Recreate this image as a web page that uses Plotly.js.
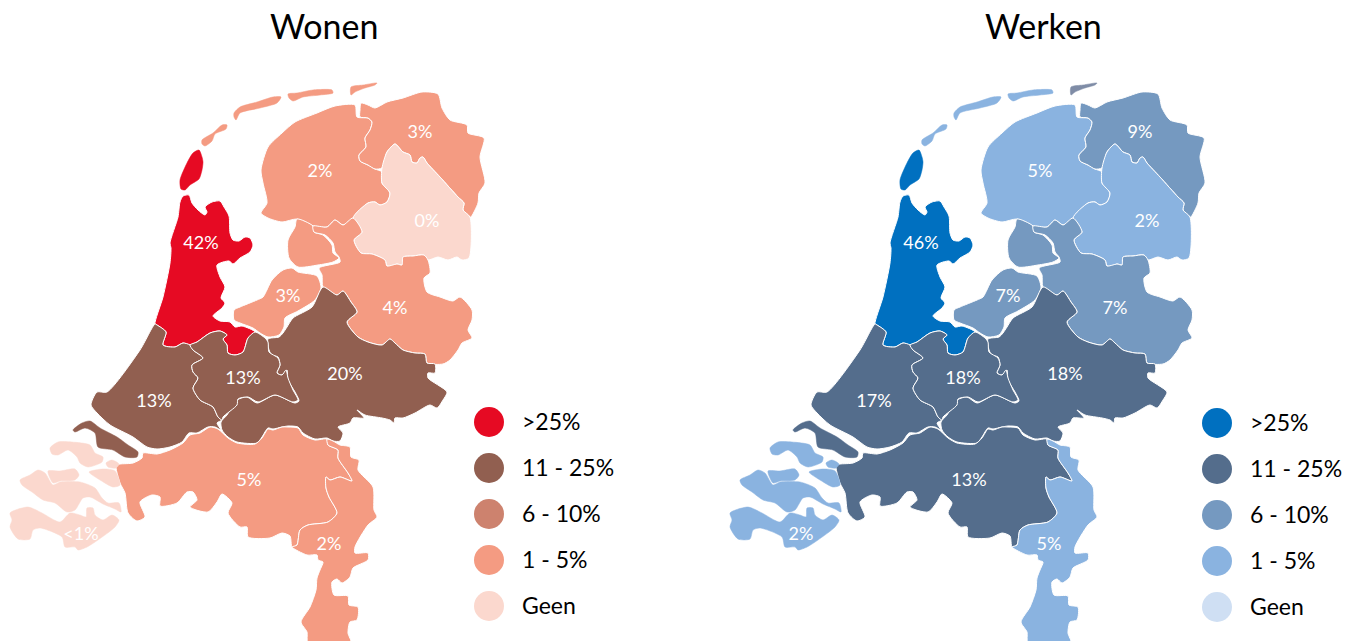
<!DOCTYPE html>
<html><head><meta charset="utf-8">
<script src="https://cdn.plot.ly/plotly-3.0.1.min.js"></script>
<style>html,body{margin:0;padding:0;background:#fff;overflow:hidden}#c{width:1356px;height:641px}</style>
</head><body><div id="c"></div>
<script>
// Province outlines: [map x, map y]
const texel=[[199,150],[202,157],[203,162],[202,170],[199,179],[190,185],[185,190],[181,189],[180,180],[187,163],[193,153]];
const noordHolland=[[183,196],[189,195],[192,203],[198,210],[205,215],[207,212],[205,207],[212,202],[220,201],[224,207],[229,216],[230,233],[233,240],[239,241],[245,237],[250,238],[253,245],[250,252],[240,258],[233,264],[229,261],[217,265],[220,277],[225,287],[221,298],[225,303],[222,308],[213,316],[220,321],[230,322],[235,327],[242,326],[255,332],[248,338],[243,352],[235,355],[228,353],[227,345],[223,339],[227,335],[220,331],[210,333],[197,342],[190,345],[183,343],[175,347],[163,345],[166,332],[157,325],[155,324],[163,297],[170,263],[171,248],[170,243],[178,217],[180,202]];
const vlieland=[[202,140],[213,133],[222,125],[227,125],[226,129],[215,134],[212,141],[205,146],[202,144]];
const terschelling=[[234,113],[240,107],[257,102],[273,97],[281,97],[277,103],[260,108],[240,113],[236,120],[234,117]];
const ameland=[[288,94],[297,93],[313,90],[332,90],[333,93],[320,95],[303,97],[293,101],[289,98]];
const schiermonnikoog=[[351,87],[363,85],[377,83],[375,85],[365,88],[355,92],[351,95]];
const friesland=[[355,105],[357,117],[368,118],[372,122],[370,130],[365,138],[366,147],[359,155],[360,161],[368,165],[375,169],[382,172],[382,183],[390,193],[387,202],[380,205],[375,202],[368,203],[353,218],[343,225],[335,220],[327,227],[313,226],[297,219],[282,222],[268,218],[261,213],[267,203],[263,183],[261,170],[268,147],[282,133],[295,122],[317,113],[335,106]];
const groningen=[[361,103],[368,105],[375,108],[387,102],[403,98],[422,92],[438,94],[442,108],[450,120],[467,125],[468,133],[484,138],[480,157],[485,183],[479,193],[478,203],[471,217],[470,217],[463,210],[464,203],[458,197],[440,177],[427,163],[423,157],[420,158],[417,163],[412,162],[410,155],[403,152],[395,144],[387,152],[382,168],[375,169],[368,165],[360,161],[359,155],[366,147],[365,138],[370,130],[372,122],[368,118],[360,117],[360,110]];
const drenthe=[[395,144],[403,152],[410,155],[412,162],[417,163],[420,158],[423,157],[427,163],[440,177],[458,197],[464,203],[463,210],[470,217],[469,258],[462,260],[457,257],[448,260],[438,257],[428,260],[424,255],[413,256],[403,257],[402,265],[397,264],[392,266],[387,266],[385,260],[372,254],[361,253],[354,240],[362,232],[353,218],[368,203],[375,202],[380,205],[387,202],[390,193],[382,183],[382,168],[387,152]];
const polder=[[297,219],[313,226],[314,232],[323,235],[332,245],[333,253],[339,258],[333,262],[318,265],[298,267],[289,258],[288,240],[295,227]];
const flevoland=[[234,310],[240,307],[257,300],[263,297],[272,280],[283,270],[292,268],[298,272],[317,276],[321,288],[315,300],[298,311],[285,318],[284,327],[279,335],[268,337],[260,333],[253,328],[240,323],[234,320]];
const overijssel=[[313,226],[327,227],[335,220],[343,225],[353,218],[362,232],[354,240],[361,253],[372,254],[385,260],[387,266],[397,264],[402,265],[403,257],[413,256],[424,255],[428,260],[430,273],[424,278],[427,292],[440,297],[453,301],[460,297],[472,310],[472,320],[468,330],[472,338],[462,343],[458,350],[450,360],[443,364],[427,363],[425,354],[415,353],[403,350],[395,343],[390,339],[382,345],[368,342],[358,337],[347,322],[357,312],[351,302],[343,291],[337,295],[323,287],[322,275],[319,268],[340,262],[339,257],[335,252],[333,243],[325,235],[314,232]];
const gelderland=[[323,287],[337,295],[343,291],[351,302],[357,312],[347,322],[358,337],[368,342],[382,345],[390,339],[395,343],[403,350],[415,353],[425,354],[427,363],[435,364],[435,373],[428,373],[428,378],[447,392],[443,400],[437,408],[430,405],[415,413],[403,418],[395,418],[394,423],[390,420],[382,418],[365,415],[357,410],[364,418],[353,418],[350,423],[338,427],[343,433],[340,441],[333,441],[327,438],[315,439],[303,433],[298,427],[288,426],[282,427],[273,429],[268,428],[262,437],[257,443],[237,442],[228,437],[222,430],[221,422],[227,415],[237,400],[247,397],[257,403],[275,395],[295,403],[299,401],[295,392],[288,380],[287,370],[282,375],[277,373],[280,365],[278,357],[272,355],[269,350],[268,339],[279,337],[283,333],[287,327],[293,318],[312,307]];
const utrecht=[[190,345],[197,342],[210,333],[220,331],[227,335],[223,339],[227,345],[228,353],[235,355],[243,352],[248,338],[255,332],[265,338],[268,342],[269,352],[278,358],[280,365],[277,373],[282,375],[286,370],[288,378],[293,390],[298,400],[293,402],[275,395],[258,402],[248,397],[238,399],[237,405],[223,417],[222,420],[218,417],[213,407],[200,400],[193,388],[198,378],[193,372],[192,365],[203,358],[193,350]];
const zuidHolland=[[155,324],[140,350],[107,392],[97,392],[91,405],[97,413],[110,425],[133,437],[147,447],[157,449],[170,447],[182,442],[189,433],[197,433],[208,427],[215,427],[221,430],[217,423],[222,420],[218,417],[213,407],[200,400],[193,388],[198,378],[193,372],[192,365],[203,358],[193,350],[190,345],[183,343],[175,347],[163,345],[166,332],[157,325]];
const goeree=[[73,430],[82,423],[90,421],[100,428],[117,437],[128,445],[138,452],[137,457],[125,457],[113,450],[98,447],[95,433],[85,428],[75,432]];
const brabant=[[143,453],[157,454],[170,450],[183,443],[190,435],[200,433],[210,427],[218,429],[228,438],[237,443],[255,444],[262,438],[268,429],[273,430],[282,427],[288,427],[298,428],[303,435],[315,440],[327,439],[328,445],[338,450],[338,458],[348,473],[352,481],[340,477],[330,480],[326,477],[326,488],[329,497],[337,513],[328,522],[308,525],[300,530],[297,545],[292,547],[290,536],[282,533],[270,538],[248,537],[247,527],[240,527],[228,513],[232,503],[222,494],[217,502],[208,512],[190,507],[197,500],[193,492],[187,492],[177,503],[160,506],[160,497],[152,495],[140,502],[145,517],[137,521],[128,513],[125,493],[120,483],[116,465],[120,464],[133,463],[142,458]];
const limburg=[[327,439],[333,441],[340,445],[350,447],[351,457],[359,460],[358,470],[373,487],[374,510],[377,517],[368,525],[355,547],[355,553],[368,553],[368,560],[353,568],[350,577],[342,583],[337,579],[332,582],[334,595],[348,596],[349,605],[358,607],[357,620],[350,622],[348,633],[351,643],[308,643],[307,632],[301,622],[310,607],[316,590],[317,578],[320,570],[323,562],[318,560],[317,555],[307,555],[292,547],[297,545],[300,530],[308,525],[328,522],[337,513],[329,497],[326,488],[326,477],[330,480],[340,477],[352,481],[348,473],[338,458],[338,450],[328,445]];
const schouwen=[[50,448],[58,442],[72,442],[90,445],[95,453],[103,457],[102,462],[88,467],[80,463],[77,457],[68,450],[58,455],[52,454]];
const tholen=[[106,463],[112,460],[119,464],[116,468],[108,467]];
const noordBeveland=[[48,471],[60,471],[75,469],[79,475],[75,480],[60,481],[53,483]];
const zuidBevelandOost=[[89,472],[103,469],[115,471],[120,485],[113,487],[100,480]];
const walcheren=[[20,480],[30,475],[38,470],[45,473],[53,485],[60,482],[80,482],[95,488],[102,498],[108,503],[119,503],[121,512],[115,509],[103,504],[90,497],[83,498],[75,510],[67,512],[55,503],[43,500],[32,492],[22,485]];
const zeeuwsVlaanderen=[[10,513],[28,507],[42,513],[60,522],[70,513],[80,515],[86,517],[87,508],[93,508],[95,515],[103,520],[112,515],[119,520],[115,527],[98,540],[87,547],[78,550],[75,547],[65,547],[62,537],[40,528],[33,530],[30,539],[18,539],[10,527],[12,520]];

// province name, outlines, whether white borders are drawn
const regions=[
 ['noordHolland',[texel],false],
 ['noordHolland',[noordHolland],true],
 ['friesland',[vlieland,terschelling,ameland],false],
 ['friesland',[friesland],true],
 ['groningen',[groningen],true],
 ['schiermonnikoog',[schiermonnikoog],false],
 ['drenthe',[drenthe],true],
 ['flevoland',[polder,flevoland],true],
 ['overijssel',[overijssel],true],
 ['zuidHolland',[zuidHolland],true],
 ['zuidHolland',[goeree],false],
 ['gelderland',[gelderland],true],
 ['utrecht',[utrecht],true],
 ['brabant',[brabant],true],
 ['limburg',[limburg],true],
 ['zeeland',[schouwen,tholen,noordBeveland,zuidBevelandOost,walcheren,zeeuwsVlaanderen],false]
];

const legendLabels=['>25%','11 - 25%','6 - 10%','1 - 5%','Geen'];
const wonenColors=['#E60A23','#915F50','#CD826E','#F49B82','#FBD8CE'];
const werkenColors=['#0070C0','#546D8C','#7599C0','#8AB3E0','#CFDFF3'];
// class index into the legend for each province
const wonenClass={noordHolland:0,friesland:3,groningen:3,schiermonnikoog:3,drenthe:4,flevoland:3,overijssel:3,zuidHolland:1,gelderland:1,utrecht:1,brabant:3,limburg:3,zeeland:4};
const werkenClass={noordHolland:0,friesland:3,groningen:2,schiermonnikoog:2,drenthe:3,flevoland:2,overijssel:2,zuidHolland:1,gelderland:1,utrecht:1,brabant:1,limburg:3,zeeland:3};
const labelX=[201,420,320,427,288,395,154,243,345,249,329,81];
const labelY=[244,133,172,222,297,309,402,379,375,481,545,535];
const wonenText=['42%','3%','2%','0%','3%','4%','13%','13%','20%','5%','2%','<1%'];
const werkenText=['46%','9%','5%','2%','7%','7%','17%','18%','18%','13%','5%','2%'];
const legendY=[422,468,514,560,606];

const FONT='Lato, Carlito, Calibri, sans-serif';
const traces=[];
function panel(ax,ay,colors,cls,texts,dotX,dy,special){
  regions.forEach(([name,polys,border])=>{
    const x=[],y=[];
    polys.forEach((p,i)=>{ if(i){x.push(null);y.push(null);} p.forEach(q=>{x.push(q[0]);y.push(q[1]);}); x.push(p[0][0]); y.push(p[0][1]); });
    const col=special[name]||colors[cls[name]];
    traces.push({type:'scatter',mode:'lines',x,y,xaxis:ax,yaxis:ay,fill:'toself',fillcolor:col,line:{color:border?'#fff':col,width:border?1:0.5,shape:'spline',smoothing:0.7},hoverinfo:'skip',showlegend:false});
  });
  traces.push({type:'scatter',mode:'text',x:labelX,y:labelY,text:texts,xaxis:ax,yaxis:ay,textposition:'middle center',textfont:{family:FONT,size:18,color:'#fff'},hoverinfo:'skip',showlegend:false,cliponaxis:false});
  traces.push({type:'scatter',mode:'markers',x:legendY.map(()=>dotX),y:legendY.map(v=>v+dy),xaxis:ax,yaxis:ay,marker:{size:30,color:colors,line:{width:0}},hoverinfo:'skip',showlegend:false,cliponaxis:false});
  traces.push({type:'scatter',mode:'text',x:legendY.map(()=>dotX+33),y:legendY.map(v=>v+dy+2),text:legendLabels,xaxis:ax,yaxis:ay,textposition:'middle right',textfont:{family:FONT,size:23,color:'#000'},hoverinfo:'skip',showlegend:false,cliponaxis:false});
}
panel('x','y',wonenColors,wonenClass,wonenText,489,0,{});
panel('x2','y2',werkenColors,werkenClass,werkenText,497,1,{schiermonnikoog:'#7F8CA6'});

const hidden={visible:false,fixedrange:true};
const layout={width:1356,height:641,margin:{l:0,r:0,t:0,b:0},paper_bgcolor:'#fff',plot_bgcolor:'#fff',showlegend:false,hovermode:false,
 xaxis:{...hidden,domain:[0,720/1356],range:[0,720]},
 yaxis:{...hidden,domain:[0,1],range:[641,0]},
 xaxis2:{...hidden,domain:[720/1356,1],range:[0,636]},
 yaxis2:{...hidden,domain:[0,1],range:[641,0],anchor:'x2'},
 annotations:[
  {xref:'x',yref:'y',x:324,y:25,text:'Wonen',showarrow:false,font:{family:FONT,size:34,color:'#000'}},
  {xref:'x2',yref:'y2',x:323,y:25,text:'Werken',showarrow:false,font:{family:FONT,size:34,color:'#000'}}
 ]};
Plotly.newPlot('c',traces,layout,{displayModeBar:false,staticPlot:true});
</script></body></html>
